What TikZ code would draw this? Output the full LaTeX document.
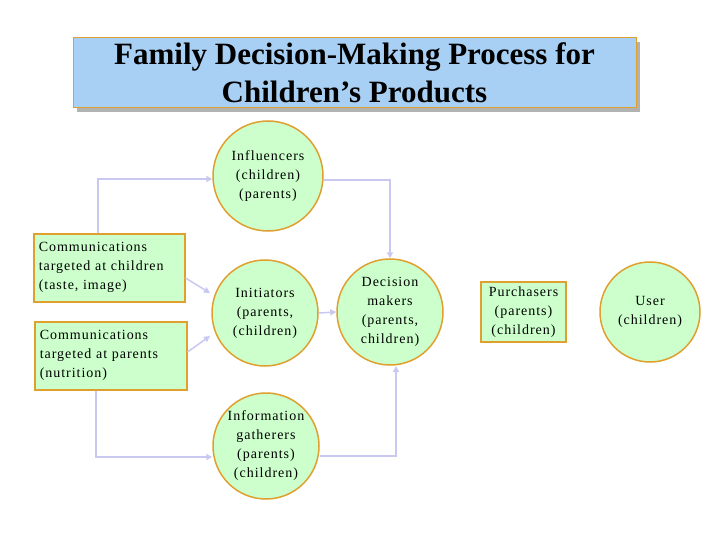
\documentclass[tikz,border=0pt]{standalone}
\usepackage{fontspec}
\setmainfont{Liberation Serif}
\newfontfamily\nodefont[LetterSpace=7]{Liberation Serif}
\usetikzlibrary{arrows.meta}
\definecolor{cfill}{HTML}{CCFFCC}
\definecolor{cbord}{HTML}{E0A030}
\definecolor{arr}{HTML}{C8C8F0}
\definecolor{tfill}{HTML}{A8D0F4}
\begin{document}
\begin{tikzpicture}[x=1pt,y=-1pt,
  nf/.style={font=\nodefont\fontsize{14}{19}\selectfont},
  circ/.style={circle,fill=cfill,draw=cbord,line width=1.5pt,align=center,nf,inner sep=0pt},
  rbox/.style={rectangle,fill=cfill,draw=cbord,line width=1.5pt,align=left,nf,inner sep=5pt,anchor=north west},
  con/.style={draw=arr,line width=1.5pt,-{Triangle[length=6pt,width=6pt]}}]
\useasboundingbox (0,0) rectangle (720,540);
\fill[gray!60] (77,42) rectangle (640,112);
\node[fill=tfill,draw=cbord,line width=1pt,minimum width=563pt,minimum height=70pt,align=center,font=\fontsize{31}{38}\selectfont\bfseries] (title) at (354.5,73) {Family Decision-Making Process for\\Children’s Products};
\node[circ,minimum size=110pt] (inf) at (268,176) {Influencers\\(children)\\(parents)};
\node[circ,minimum size=106pt] (ini) at (265,313) {Initiators\\(parents,\\(children)};
\node[circ,minimum size=106pt] (gat) at (266,446) {Information\\gatherers\\(parents)\\(children)};
\node[circ,minimum size=106pt] (dec) at (390,312) {Decision\\makers\\(parents,\\children)};
\node[circ,minimum size=100pt] (usr) at (650,312) {User\\(children)};
\node[rectangle,fill=cfill,draw=cbord,line width=1.5pt,align=center,nf,minimum width=85pt,minimum height=60pt,inner sep=2pt] (pur) at (523.5,312) {Purchasers\\(parents)\\(children)};
\node[rbox,text width=141pt,minimum height=68pt] (c1) at (33,233) {Communications\\targeted at children\\(taste, image)};
\node[rbox,text width=142pt,minimum height=68pt] (c2) at (34,321) {Communications\\targeted at parents\\(nutrition)};
\coordinate (a1) at (98,179);
\coordinate (a2) at (390,180);
\coordinate (a3) at (96,457);
\coordinate (a4) at (396,456);
\draw[con] (c1.north -| a1) -- (a1) -- (inf.west |- a1);
\draw[con] (inf.east |- a2) -- (a2) -- (dec.north -| a2);
\draw[con] (c1.east |- 0,278) -- (210,293);
\draw[con] (c2.east |- 0,352) -- (210,336);
\draw[con] (ini.east) -- (dec.west);
\draw[con] (c2.south -| a3) -- (a3) -- (gat.west |- a3);
\draw[con] (gat.east |- a4) -- (a4) -- (396,366);
\end{tikzpicture}
\end{document}
